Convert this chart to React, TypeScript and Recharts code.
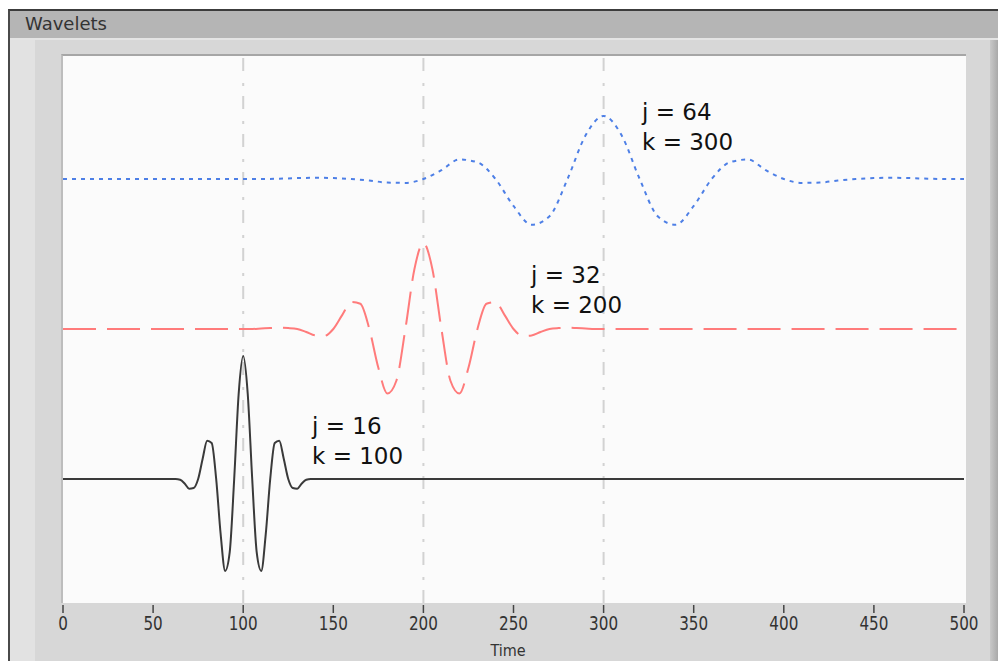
import { LineChart, Line, XAxis, YAxis, ReferenceLine } from 'recharts';

// x ticks on the time axis
const timeTicks = [0, 50, 100, 150, 200, 250, 300, 350, 400, 450, 500];
const gridTimes = [100, 200, 300];

// j = 16, k = 100 (black, baseline -1)
const wavelet16: [number, number][] = [
  [0, -1], [60, -1], [62.5, -1], [65, -1.005], [67.5, -1.03], [70, -1.065], [72.5, -1.06],
  [75, -1], [77.5, -0.865], [80, -0.745], [82.5, -0.76], [85, -1], [87.5, -1.37],
  [90, -1.613], [92.5, -1.49], [95, -1], [97.5, -0.43], [100, -0.18], [102.5, -0.43],
  [105, -1], [107.5, -1.49], [110, -1.613], [112.5, -1.37], [115, -1], [117.5, -0.76],
  [120, -0.745], [122.5, -0.865], [125, -1], [127.5, -1.06], [130, -1.065], [132.5, -1.03],
  [135, -1.005], [137.5, -1], [140, -1], [500, -1],
];

// j = 32, k = 200 (red, baseline 0)
const wavelet32: [number, number][] = [
  [0, 0], [100, 0], [105, 0], [110, 0.003], [115, 0.006], [120, 0.008], [125, 0.006],
  [130, 0], [135, -0.02], [140, -0.043], [145, -0.046], [150, 0], [155, 0.094],
  [160, 0.18], [165, 0.168], [170, 0], [175, -0.259], [180, -0.43], [185, -0.345],
  [190, 0], [195, 0.398], [200, 0.573], [205, 0.398], [210, 0], [215, -0.345],
  [220, -0.43], [225, -0.259], [230, 0], [235, 0.168], [240, 0.18], [245, 0.094],
  [250, 0], [255, -0.046], [260, -0.043], [265, -0.02], [270, 0], [275, 0.006],
  [280, 0.008], [285, 0.006], [290, 0.003], [295, 0], [300, 0], [500, 0],
];

// j = 64, k = 300 (blue, baseline 1)
const wavelet64: [number, number][] = [
  [0, 1], [100, 1], [110, 1], [120, 1.002], [130, 1.006], [140, 1.008], [150, 1.006],
  [160, 1], [170, 0.99], [180, 0.976], [190, 0.974], [200, 1], [210, 1.059],
  [220, 1.13], [230, 1.111], [240, 1], [250, 0.82], [260, 0.695], [270, 0.752],
  [280, 1], [290, 1.291], [300, 1.42], [310, 1.291], [320, 1], [330, 0.752],
  [340, 0.695], [350, 0.82], [360, 1], [370, 1.111], [380, 1.13], [390, 1.059],
  [400, 1], [410, 0.974], [420, 0.976], [430, 0.99], [440, 1], [450, 1.006],
  [460, 1.008], [470, 1.006], [480, 1.002], [490, 1], [500, 1],
];

const labels = [
  { j: 'j = 64', k: 'k = 300', left: 642, top: 97 },
  { j: 'j = 32', k: 'k = 200', left: 531, top: 260 },
  { j: 'j = 16', k: 'k = 100', left: 312, top: 411 },
];

const toPoints = (arr: [number, number][]) => arr.map(([x, y]) => ({ x, y }));

// narrow tick labels like the LabVIEW graph font
const NarrowTick = ({ x, y, payload }: any) => (
  <text
    transform={`translate(${x},${y + 17}) scale(0.76,1)`}
    textAnchor="middle"
    fill="#333"
    fontSize={20}
    fontFamily="DejaVu Sans, sans-serif"
  >
    {payload.value}
  </text>
);

export default function App() {
  return (
    <div style={{ position: 'relative', width: 1006, height: 669, margin: -8, overflow: 'hidden', background: '#fff' }}>
      {/* panel frame */}
      <div style={{ position: 'absolute', left: 8, top: 9, width: 998, height: 658, background: '#d7d7d7', borderTop: '2px solid #3c3c3c', borderLeft: '2px solid #4a4a4a', borderBottom: '2px solid #555', boxSizing: 'border-box' }} />
      <div style={{ position: 'absolute', left: 10, top: 11, width: 996, height: 29, background: '#b5b5b5', borderBottom: '2px solid #e4e4e4', boxSizing: 'border-box' }} />
      <div style={{ position: 'absolute', left: 25, top: 13, fontFamily: 'DejaVu Sans, sans-serif', fontSize: 18, color: '#333' }}>Wavelets</div>
      <div style={{ position: 'absolute', left: 10, top: 40, width: 25, height: 625, background: '#e2e2e2' }} />
      <div style={{ position: 'absolute', left: 990, top: 40, width: 16, height: 625, background: 'linear-gradient(to right, #c8c8c8, #8a8a8a)' }} />
      {/* plot background */}
      <div style={{ position: 'absolute', left: 61, top: 54, width: 905, height: 549, background: '#fbfbfb', borderTop: '2px solid #a6a6a6', borderLeft: '2px solid #bdbdbd', boxSizing: 'border-box' }} />

      <div style={{ position: 'absolute', left: 0, top: 0 }}>
        <LineChart width={1006} height={669} margin={{ top: 56, left: 63, right: 42, bottom: 6 }}>
          <XAxis
            dataKey="x"
            type="number"
            domain={[0, 500]}
            ticks={timeTicks}
            axisLine={false}
            tickLine={{ stroke: '#444', strokeWidth: 1.5, transform: 'translate(0,2)' }}
            tickSize={8}
            height={60}
            tick={<NarrowTick />}
          />
          <YAxis hide type="number" domain={[-1.827, 1.82]} allowDataOverflow />
          {gridTimes.map((t) => (
            <ReferenceLine key={t} x={t} stroke="#d2d2d2" strokeWidth={2} strokeDasharray="13 10 3 12" />
          ))}
          <Line data={toPoints(wavelet16)} dataKey="y" type="monotone" stroke="#3a3a3a" strokeWidth={2} dot={false} isAnimationActive={false} />
          <Line data={toPoints(wavelet32)} dataKey="y" type="monotone" stroke="#ff7b7b" strokeWidth={2} strokeDasharray="33 11" dot={false} isAnimationActive={false} />
          <Line data={toPoints(wavelet64)} dataKey="y" type="monotone" stroke="#4d7fe6" strokeWidth={2} strokeDasharray="4 5" dot={false} isAnimationActive={false} />
        </LineChart>
      </div>

      <div style={{ position: 'absolute', left: 458, top: 641, width: 100, textAlign: 'center', fontFamily: 'DejaVu Sans, sans-serif', fontSize: 16, color: '#333', transform: 'scaleX(0.9)' }}>Time</div>

      {labels.map((l) => (
        <div key={l.j} style={{ position: 'absolute', left: l.left, top: l.top, fontFamily: 'DejaVu Sans, sans-serif', fontSize: 23, lineHeight: '30px', color: '#111' }}>
          <div>{l.j}</div>
          <div>{l.k}</div>
        </div>
      ))}
    </div>
  );
}
